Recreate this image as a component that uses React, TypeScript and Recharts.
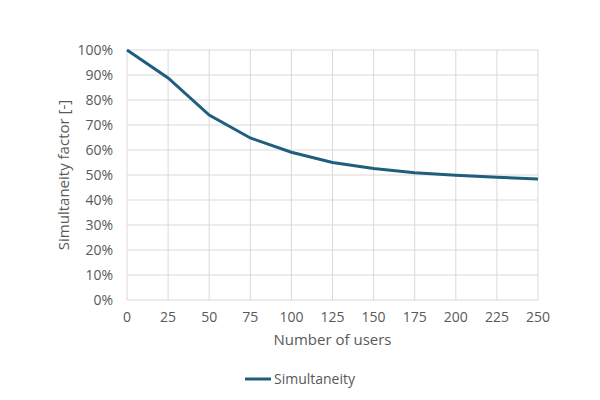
import React from 'react';
import {
  LineChart,
  Line,
  XAxis,
  YAxis,
  CartesianGrid,
  Legend,
} from 'recharts';

const users = [0, 25, 50, 75, 100, 125, 150, 175, 200, 225, 250];
const simultaneity = [100, 88.8, 74, 64.8, 59.1, 55, 52.6, 50.9, 49.9, 49.1, 48.4];
const yTicks = [0, 10, 20, 30, 40, 50, 60, 70, 80, 90, 100];

const data = users.map((u, i) => ({ users: u, value: simultaneity[i] }));

const FONT = '"Open Sans", "Liberation Sans", sans-serif';
const TEXT = '#595959';
const LINE = '#1f5f7e';

const LegendContent = () => (
  <div
    style={{
      display: 'flex',
      justifyContent: 'center',
      alignItems: 'center',
      fontFamily: FONT,
      fontSize: 14,
      color: TEXT,
    }}
  >
    <svg width={26} height={6} style={{ marginRight: 3 }}>
      <line x1={0} y1={3} x2={26} y2={3} stroke={LINE} strokeWidth={3} />
    </svg>
    <span>Simultaneity</span>
  </div>
);

export default function App() {
  return (
    <div style={{ position: 'absolute', left: 0, top: 0, background: '#fff' }}>
      <LineChart
        width={600}
        height={400}
        data={data}
        margin={{ top: 50, right: 62, bottom: 0, left: 0 }}
      >
        <CartesianGrid stroke="#d9d9d9" strokeWidth={1} />
        <XAxis
          dataKey="users"
          type="number"
          domain={[0, 250]}
          ticks={users}
          axisLine={false}
          tickLine={false}
          tick={{ fill: TEXT, fontSize: 14, fontFamily: FONT }}
          tickMargin={6}
          height={64}
          label={{
            value: 'Number of users',
            position: 'insideTop',
            offset: 34,
            fill: TEXT,
            fontSize: 15,
            fontFamily: FONT,
          }}
        />
        <YAxis
          type="number"
          domain={[0, 100]}
          ticks={yTicks}
          axisLine={false}
          tickLine={false}
          tickFormatter={(v: number) => `${v}%`}
          tick={{ fill: TEXT, fontSize: 14, fontFamily: FONT }}
          tickMargin={8}
          width={127}
          label={{
            value: 'Simultaneity factor [-]',
            angle: -90,
            position: 'insideLeft',
            offset: 64,
            style: { textAnchor: 'middle' },
            fill: TEXT,
            fontSize: 15,
            fontFamily: FONT,
          }}
        />
        <Legend
          verticalAlign="bottom"
          height={36}
          wrapperStyle={{ left: 0, width: 600, top: 369, bottom: 'auto' }}
          content={<LegendContent />}
        />
        <Line
          type="linear"
          dataKey="value"
          name="Simultaneity"
          stroke={LINE}
          strokeWidth={3}
          dot={false}
          isAnimationActive={false}
        />
      </LineChart>
    </div>
  );
}
